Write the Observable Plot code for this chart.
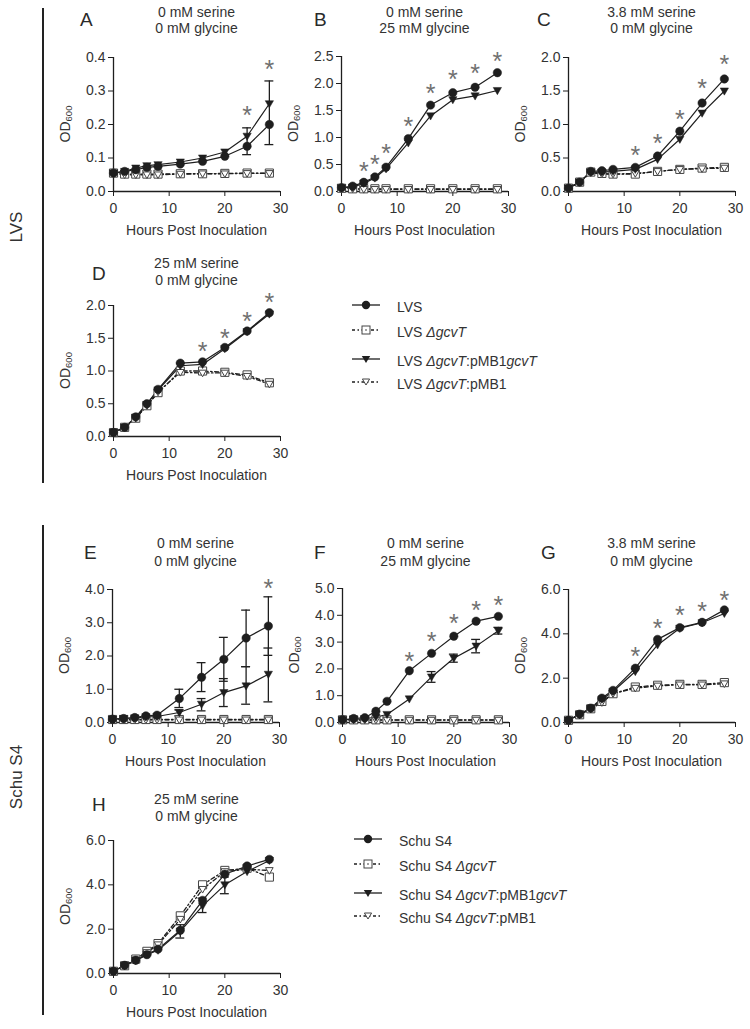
<!DOCTYPE html>
<html><head><meta charset="utf-8">
<script src="https://cdn.jsdelivr.net/npm/d3@7"></script>
<script src="https://cdn.jsdelivr.net/npm/@observablehq/plot@0.6"></script>
<style>
html,body{margin:0;padding:0;background:#fff;}
#root{position:relative;width:750px;height:1029px;overflow:hidden;font-family:"Liberation Sans",Arial,sans-serif;color:#333;}
.abs{position:absolute;white-space:nowrap;}
.letter{font-size:19px;color:#2a2a2a;transform:translateY(-50%);}
.sub{font-size:14px;transform:translate(-50%,-50%);}
.side{font-size:17px;transform:translate(-50%,-50%) rotate(-90deg);}
.vbar{width:1.6px;background:#222;}
.leg{font-size:14px;transform:translateY(-50%);}
.legsym{position:absolute;transform:translateY(-50%);}
svg.panel{position:absolute;}
</style></head><body><div id="root"></div>
<script>
const hours = [0, 2, 4, 6, 8, 12, 16, 20, 24, 28];
const strainKeys = ["wt", "del", "comp", "vec"];

// ---- LVS panels ----
const A_wt   = [0.055, 0.060, 0.065, 0.072, 0.075, 0.082, 0.090, 0.105, 0.135, 0.200];
const A_del  = [0.055, 0.052, 0.052, 0.052, 0.052, 0.053, 0.053, 0.054, 0.055, 0.055];
const A_comp = [0.055, 0.060, 0.070, 0.077, 0.080, 0.088, 0.100, 0.118, 0.165, 0.262];
const A_vec  = [0.055, 0.050, 0.050, 0.050, 0.050, 0.052, 0.053, 0.053, 0.054, 0.054];
const A_errHour = [24, 28];
const A_errLo = [0.11, 0.14];
const A_errHi = [0.19, 0.33];
const A_starHour = [24, 28];
const A_starY = [0.246, 0.385];

const B_wt   = [0.07, 0.10, 0.17, 0.27, 0.45, 0.98, 1.60, 1.83, 1.93, 2.20];
const B_del  = [0.06, 0.05, 0.05, 0.05, 0.05, 0.05, 0.05, 0.05, 0.05, 0.05];
const B_comp = [0.07, 0.08, 0.15, 0.25, 0.42, 0.90, 1.40, 1.70, 1.77, 1.87];
const B_vec  = [0.06, 0.05, 0.04, 0.04, 0.04, 0.04, 0.04, 0.04, 0.04, 0.04];
const B_errHour = [];
const B_errLo = [];
const B_errHi = [];
const B_starHour = [4, 6, 8, 12, 16, 20, 24, 28];
const B_starY = [0.50, 0.62, 0.82, 1.33, 1.94, 2.19, 2.31, 2.53];

const C_wt   = [0.05, 0.14, 0.30, 0.31, 0.33, 0.36, 0.53, 0.90, 1.32, 1.68];
const C_del  = [0.05, 0.14, 0.29, 0.27, 0.26, 0.26, 0.30, 0.33, 0.35, 0.36];
const C_comp = [0.05, 0.14, 0.29, 0.29, 0.30, 0.33, 0.48, 0.78, 1.17, 1.50];
const C_vec  = [0.05, 0.14, 0.28, 0.26, 0.26, 0.27, 0.30, 0.33, 0.34, 0.35];
const C_errHour = [];
const C_errLo = [];
const C_errHi = [];
const C_starHour = [12, 16, 20, 24, 28];
const C_starY = [0.64, 0.82, 1.17, 1.64, 1.99];

const D_wt   = [0.06, 0.14, 0.30, 0.50, 0.72, 1.12, 1.14, 1.36, 1.61, 1.89];
const D_del  = [0.06, 0.14, 0.28, 0.47, 0.67, 1.00, 1.00, 0.98, 0.94, 0.82];
const D_comp = [0.06, 0.14, 0.29, 0.49, 0.71, 1.08, 1.10, 1.34, 1.60, 1.87];
const D_vec  = [0.06, 0.14, 0.28, 0.47, 0.68, 0.98, 0.97, 0.97, 0.92, 0.80];
const D_errHour = [];
const D_errLo = [];
const D_errHi = [];
const D_starHour = [16, 20, 24, 28];
const D_starY = [1.40, 1.60, 1.86, 2.15];

// ---- Schu S4 panels ----
const E_wt   = [0.10, 0.12, 0.15, 0.20, 0.22, 0.72, 1.36, 1.90, 2.54, 2.90];
const E_del  = [0.09, 0.09, 0.09, 0.09, 0.09, 0.09, 0.09, 0.09, 0.09, 0.09];
const E_comp = [0.10, 0.12, 0.14, 0.17, 0.18, 0.30, 0.55, 0.90, 1.10, 1.45];
const E_vec  = [0.09, 0.08, 0.08, 0.08, 0.08, 0.08, 0.08, 0.08, 0.08, 0.08];
const E_errHour = [12, 16, 20, 24, 28, 12, 16, 20, 24, 28];
const E_errLo = [0.45, 0.93, 1.24, 1.68, 2.02, 0.20, 0.35, 0.48, 0.55, 0.62];
const E_errHi = [1.00, 1.80, 2.56, 3.38, 3.78, 0.38, 0.72, 1.32, 1.68, 2.24];
const E_starHour = [28];
const E_starY = [4.23];

const F_wt   = [0.10, 0.15, 0.18, 0.42, 0.79, 1.93, 2.58, 3.22, 3.78, 3.96];
const F_del  = [0.10, 0.10, 0.10, 0.10, 0.10, 0.10, 0.10, 0.10, 0.10, 0.10];
const F_comp = [0.10, 0.12, 0.14, 0.20, 0.30, 0.88, 1.70, 2.40, 2.85, 3.42];
const F_vec  = [0.10, 0.09, 0.09, 0.09, 0.09, 0.09, 0.09, 0.09, 0.09, 0.09];
const F_errHour = [16, 20, 24, 28];
const F_errLo = [1.50, 2.25, 2.60, 3.30];
const F_errHi = [1.90, 2.55, 3.10, 3.55];
const F_starHour = [12, 16, 20, 24, 28];
const F_starY = [2.52, 3.25, 3.94, 4.41, 4.60];

const G_wt   = [0.10, 0.38, 0.65, 1.10, 1.45, 2.45, 3.75, 4.28, 4.52, 5.08];
const G_del  = [0.10, 0.35, 0.62, 0.95, 1.30, 1.60, 1.68, 1.72, 1.72, 1.80];
const G_comp = [0.10, 0.35, 0.63, 1.05, 1.40, 2.30, 3.50, 4.25, 4.50, 4.92];
const G_vec  = [0.10, 0.35, 0.60, 0.90, 1.30, 1.55, 1.65, 1.70, 1.70, 1.75];
const G_errHour = [];
const G_errLo = [];
const G_errHi = [];
const G_starHour = [12, 16, 20, 24, 28];
const G_starY = [3.29, 4.53, 5.14, 5.29, 5.79];

const H_wt   = [0.10, 0.37, 0.60, 0.85, 1.10, 1.95, 3.30, 4.48, 4.85, 5.15];
const H_del  = [0.10, 0.35, 0.65, 1.00, 1.35, 2.60, 4.00, 4.65, 4.75, 4.35];
const H_comp = [0.10, 0.35, 0.58, 0.85, 1.05, 1.90, 3.05, 4.00, 4.60, 5.10];
const H_vec  = [0.10, 0.35, 0.62, 0.95, 1.30, 2.45, 3.80, 4.60, 4.70, 4.65];
const H_errHour = [12, 16, 20];
const H_errLo = [1.60, 2.75, 3.60];
const H_errHi = [2.20, 3.40, 4.35];
const H_starHour = [];
const H_starY = [];

// ---- text ----
const panelLetters = ["A", "B", "C", "D", "E", "F", "G", "H"];
const serineLabels = ["0 mM serine", "0 mM serine", "3.8 mM serine", "25 mM serine", "0 mM serine", "0 mM serine", "3.8 mM serine", "25 mM serine"];
const glycineLabels = ["0 mM glycine", "25 mM glycine", "0 mM glycine", "0 mM glycine", "0 mM glycine", "25 mM glycine", "0 mM glycine", "0 mM glycine"];
const xTicks = [0, 10, 20, 30];
const yMax = [0.4, 2.5, 2.0, 2.0, 4.0, 5.0, 6.0, 6.0];
const yTicks = [
  [0, 0.1, 0.2, 0.3, 0.4],
  [0, 0.5, 1.0, 1.5, 2.0, 2.5],
  [0, 0.5, 1.0, 1.5, 2.0],
  [0, 0.5, 1.0, 1.5, 2.0],
  [0, 1, 2, 3, 4],
  [0, 1, 2, 3, 4, 5],
  [0, 2, 4, 6],
  [0, 2, 4, 6]
];
const xTitle = "Hours Post Inoculation";
const groupNames = ["LVS", "Schu S4"];
const legendLVS = ["LVS", "LVS <i>ΔgcvT</i>", "LVS <i>ΔgcvT</i>:pMB1<i>gcvT</i>", "LVS <i>ΔgcvT</i>:pMB1"];
const legendSchu = ["Schu S4", "Schu S4 <i>ΔgcvT</i>", "Schu S4 <i>ΔgcvT</i>:pMB1<i>gcvT</i>", "Schu S4 <i>ΔgcvT</i>:pMB1"];

const panelData = {
  A: [A_wt, A_del, A_comp, A_vec, A_errHour, A_errLo, A_errHi, A_starHour, A_starY],
  B: [B_wt, B_del, B_comp, B_vec, B_errHour, B_errLo, B_errHi, B_starHour, B_starY],
  C: [C_wt, C_del, C_comp, C_vec, C_errHour, C_errLo, C_errHi, C_starHour, C_starY],
  D: [D_wt, D_del, D_comp, D_vec, D_errHour, D_errLo, D_errHi, D_starHour, D_starY],
  E: [E_wt, E_del, E_comp, E_vec, E_errHour, E_errLo, E_errHi, E_starHour, E_starY],
  F: [F_wt, F_del, F_comp, F_vec, F_errHour, F_errLo, F_errHi, F_starHour, F_starY],
  G: [G_wt, G_del, G_comp, G_vec, G_errHour, G_errLo, G_errHi, G_starHour, G_starY],
  H: [H_wt, H_del, H_comp, H_vec, H_errHour, H_errLo, H_errHi, H_starHour, H_starY]
};

// ---- layout (pixel geometry, separate from data) ----
const layout = {
  A: {ax: 113, top: 57,  bot: 191, lx: 80,  ly: 20,  s1: 12,  s2: 28},
  B: {ax: 341, top: 56,  bot: 191, lx: 314, ly: 20,  s1: 12,  s2: 28},
  C: {ax: 568, top: 57,  bot: 191, lx: 537, ly: 20,  s1: 12,  s2: 28},
  D: {ax: 113, top: 305, bot: 436, lx: 92,  ly: 274, s1: 263, s2: 280},
  E: {ax: 112, top: 589, bot: 722, lx: 84,  ly: 553, s1: 543, s2: 561},
  F: {ax: 342, top: 588, bot: 722, lx: 314, ly: 553, s1: 543, s2: 561},
  G: {ax: 568, top: 589, bot: 722, lx: 541, ly: 553, s1: 543, s2: 561},
  H: {ax: 113, top: 840, bot: 973, lx: 92,  ly: 805, s1: 799, s2: 816}
};
const PW = 167;
const ML = 58, MR = 16, MT = 22, MB = 52;
const FONT = '"Liberation Sans", Arial, sans-serif';
const INK = "#1e1e1e";

const triDown = {
  draw(ctx, size) {
    const r = Math.sqrt(size / Math.PI);
    ctx.moveTo(-1.15 * r, -0.85 * r);
    ctx.lineTo(1.15 * r, -0.85 * r);
    ctx.lineTo(0, 1.15 * r);
    ctx.closePath();
  }
};

const root = document.getElementById("root");
function addDiv(cls, html, x, y, extra) {
  const d = document.createElement("div");
  d.className = "abs " + cls;
  d.innerHTML = html;
  d.style.left = x + "px";
  d.style.top = y + "px";
  if (extra) Object.assign(d.style, extra);
  root.appendChild(d);
  return d;
}

panelLetters.forEach((key, idx) => {
  const L = layout[key];
  const [wt, del, comp, vec, eH, eLo, eHi, sH, sY] = panelData[key];
  const series = [wt, del, comp, vec];
  const rows = [];
  series.forEach((vals, i) => vals.forEach((v, j) => rows.push({t: hours[j], v, s: strainKeys[i]})));
  const errs = eH.map((t, i) => ({t, lo: eLo[i], hi: eHi[i]}));
  const stars = sH.map((t, i) => ({t, y: sY[i]}));
  const PH = L.bot - L.top;
  const fmt = d3.format(".1f");
  const bySeries = (s) => rows.filter(r => r.s === s);

  const chart = Plot.plot({
    width: ML + PW + MR,
    height: MT + PH + MB,
    marginLeft: ML, marginRight: MR, marginTop: MT, marginBottom: MB,
    style: {fontFamily: FONT, fontSize: "14px", color: "#333", background: "transparent", overflow: "visible"},
    x: {domain: [0, 30], ticks: xTicks, tickSize: 5, tickPadding: 7, label: null},
    y: {domain: [0, yMax[idx]], ticks: yTicks[idx], tickFormat: fmt, tickSize: 5, tickPadding: 3, label: null},
    marks: [
      Plot.ruleX([0], {stroke: INK, strokeWidth: 1.3}),
      Plot.ruleY([0], {stroke: INK, strokeWidth: 1.3}),
      Plot.line(bySeries("del"), {x: "t", y: "v", stroke: INK, strokeWidth: 1.3, strokeDasharray: "4,2.5,1.5,2.5"}),
      Plot.line(bySeries("vec"), {x: "t", y: "v", stroke: INK, strokeWidth: 1.3, strokeDasharray: "4,2.5,1.5,2.5"}),
      Plot.line(bySeries("wt"), {x: "t", y: "v", stroke: INK, strokeWidth: 1.2}),
      Plot.line(bySeries("comp"), {x: "t", y: "v", stroke: INK, strokeWidth: 1.2}),
      Plot.ruleX(errs, {x: "t", y1: "lo", y2: "hi", stroke: INK, strokeWidth: 1.3}),
      Plot.ruleY(errs, {y: "lo", x1: d => d.t - 0.8, x2: d => d.t + 0.8, stroke: INK, strokeWidth: 1.3}),
      Plot.ruleY(errs, {y: "hi", x1: d => d.t - 0.8, x2: d => d.t + 0.8, stroke: INK, strokeWidth: 1.3}),
      Plot.dot(bySeries("del"), {x: "t", y: "v", symbol: "square", r: 4.6, fill: "white", stroke: "#444", strokeWidth: 1}),
      Plot.dot(bySeries("vec"), {x: "t", y: "v", symbol: triDown, r: 3.3, fill: "white", stroke: "#444", strokeWidth: 1}),
      Plot.dot(bySeries("comp"), {x: "t", y: "v", symbol: triDown, r: 3.6, fill: INK, stroke: INK, strokeWidth: 0.5}),
      Plot.dot(bySeries("wt"), {x: "t", y: "v", symbol: "circle", r: 4.2, fill: INK, stroke: INK, strokeWidth: 0.5}),
      Plot.text(stars, {x: "t", y: "y", text: () => "*", fontSize: 25, fill: "#707070", dy: 7, lineAnchor: "middle"})
    ]
  });
  chart.classList.add("panel");
  chart.style.left = (L.ax - ML) + "px";
  chart.style.top = (L.top - MT) + "px";
  const svg = d3.select(chart);
  svg.selectAll("[aria-label='x-axis tick'], [aria-label='y-axis tick']").attr("stroke", INK);
  // axis titles
  const yl = svg.append("text")
    .attr("transform", `translate(${ML - 47},${MT + PH / 2}) rotate(-90)`)
    .attr("text-anchor", "middle").attr("dominant-baseline", "middle")
    .attr("font-family", FONT).attr("font-size", 14).attr("fill", "#333");
  yl.append("tspan").text("OD");
  yl.append("tspan").attr("font-size", 9.5).attr("dy", 3).text("600");
  svg.append("text")
    .attr("x", ML + PW / 2).attr("y", MT + PH + 40)
    .attr("text-anchor", "middle").attr("dominant-baseline", "middle")
    .attr("font-family", FONT).attr("font-size", 14).attr("fill", "#333")
    .text(xTitle);
  root.appendChild(chart);

  addDiv("letter", key, L.lx, L.ly);
  const cx = L.ax + PW / 2;
  addDiv("sub", serineLabels[idx], cx, L.s1);
  addDiv("sub", glycineLabels[idx], cx, L.s2);
});

// group labels and bars
addDiv("side", groupNames[0], 17, 227);
addDiv("side", groupNames[1], 17, 777);
addDiv("vbar", "", 42, 8, {height: "475px"});
addDiv("vbar", "", 42, 525, {height: "490px"});

// legends
function legendSymbol(i) {
  const dashed = (i === 1 || i === 3);
  const line = `<line x1="0" y1="8" x2="28" y2="8" stroke="${INK}" stroke-width="1.3" ${dashed ? 'stroke-dasharray="3,2.5,1.5,2.5"' : ""}/>`;
  let sym = "";
  if (i === 0) sym = `<circle cx="14" cy="8" r="4.2" fill="${INK}"/>`;
  if (i === 1) sym = `<rect x="10" y="4" width="8" height="8" fill="white" stroke="#444" stroke-width="1"/><line x1="13" y1="8" x2="15" y2="8" stroke="#444"/>`;
  if (i === 2) sym = `<path d="M9.8,5 L18.2,5 L14,12 Z" fill="${INK}"/>`;
  if (i === 3) sym = `<path d="M10.4,5 L17.6,5 L14,11 Z" fill="white" stroke="#444" stroke-width="1"/>`;
  return `<svg width="28" height="16">${line}${sym}</svg>`;
}
const legRowsLVS = [307, 332, 361, 384];
const legRowsSchu = [841, 866, 895, 918];
legendLVS.forEach((txt, i) => {
  addDiv("legsym", legendSymbol(i), 352, legRowsLVS[i]);
  addDiv("leg", txt, 397, legRowsLVS[i]);
});
legendSchu.forEach((txt, i) => {
  addDiv("legsym", legendSymbol(i), 354, legRowsSchu[i]);
  addDiv("leg", txt, 399, legRowsSchu[i]);
});
</script></body></html>
